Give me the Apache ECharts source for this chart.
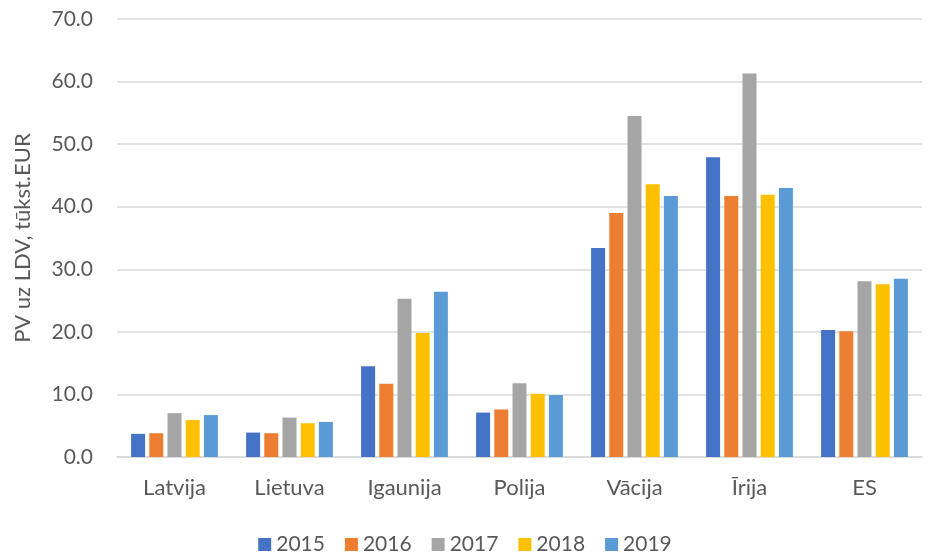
<!DOCTYPE html>
<html>
<head>
<meta charset="utf-8">
<script src="https://cdn.jsdelivr.net/npm/echarts@6/dist/echarts.min.js"></script>
<style>
    html, body {margin: 0; padding: 0; background: #fff;}
    #chart {width: 930px; height: 554px;}
</style>
</head>
<body>
<div id="chart"></div>
<script>
// valstis
const categories = ['Latvija', 'Lietuva', 'Igaunija', 'Polija', 'Vācija', 'Īrija', 'ES'];
const years = ['2015', '2016', '2017', '2018', '2019'];
// PV uz LDV, tūkst.EUR
const v2015 = [3.7, 3.9, 14.5, 7.1, 33.4, 47.9, 20.3];
const v2016 = [3.8, 3.8, 11.7, 7.6, 39.0, 41.7, 20.1];
const v2017 = [7.0, 6.3, 25.3, 11.8, 54.5, 61.3, 28.1];
const v2018 = [5.9, 5.4, 19.8, 10.1, 43.6, 41.9, 27.6];
const v2019 = [6.7, 5.6, 26.4, 9.9, 41.7, 43.0, 28.5];
const colors = ['#4472c4', '#ed7d31', '#a5a5a5', '#ffc000', '#5b9bd5'];

const font = 'Lato, "Open Sans", sans-serif';
const seriesData = [v2015, v2016, v2017, v2018, v2019];

let myChart = echarts.init(document.getElementById('chart'));
let option = {
    animation: false,
    color: colors,
    textStyle: {fontFamily: font},
    legend: {
        data: years,
        top: 532,
        left: 'center',
        padding: 2,
        itemWidth: 13,
        itemHeight: 13,
        itemGap: 20,
        icon: 'rect',
        textStyle: {fontSize: 21, color: '#595959', fontFamily: font}
    },
    grid: {
        left: 117,
        right: 8,
        top: 19,
        bottom: 97
    },
    xAxis: {
        type: 'category',
        data: categories,
        axisLine: {lineStyle: {color: '#d9d9d9', width: 1.5}},
        axisTick: {show: false},
        axisLabel: {fontSize: 22, color: '#595959', margin: 20, fontFamily: font}
    },
    yAxis: {
        type: 'value',
        min: 0,
        max: 70,
        interval: 10,
        name: 'PV uz LDV, tūkst.EUR',
        nameLocation: 'middle',
        nameGap: 83,
        nameRotate: 90,
        nameTextStyle: {fontSize: 22, color: '#595959', fontFamily: font},
        axisLine: {show: false},
        axisTick: {show: false},
        axisLabel: {
            fontSize: 21,
            color: '#595959',
            margin: 24,
            fontFamily: font,
            formatter: v => v.toFixed(1)
        },
        splitLine: {lineStyle: {color: '#d9d9d9', width: 1.5}}
    },
    series: years.map((y, i) => ({
        name: y,
        type: 'bar',
        data: seriesData[i],
        barWidth: 14,
        barGap: '30%'
    }))
};
myChart.setOption(option);
</script>
</body>
</html>
